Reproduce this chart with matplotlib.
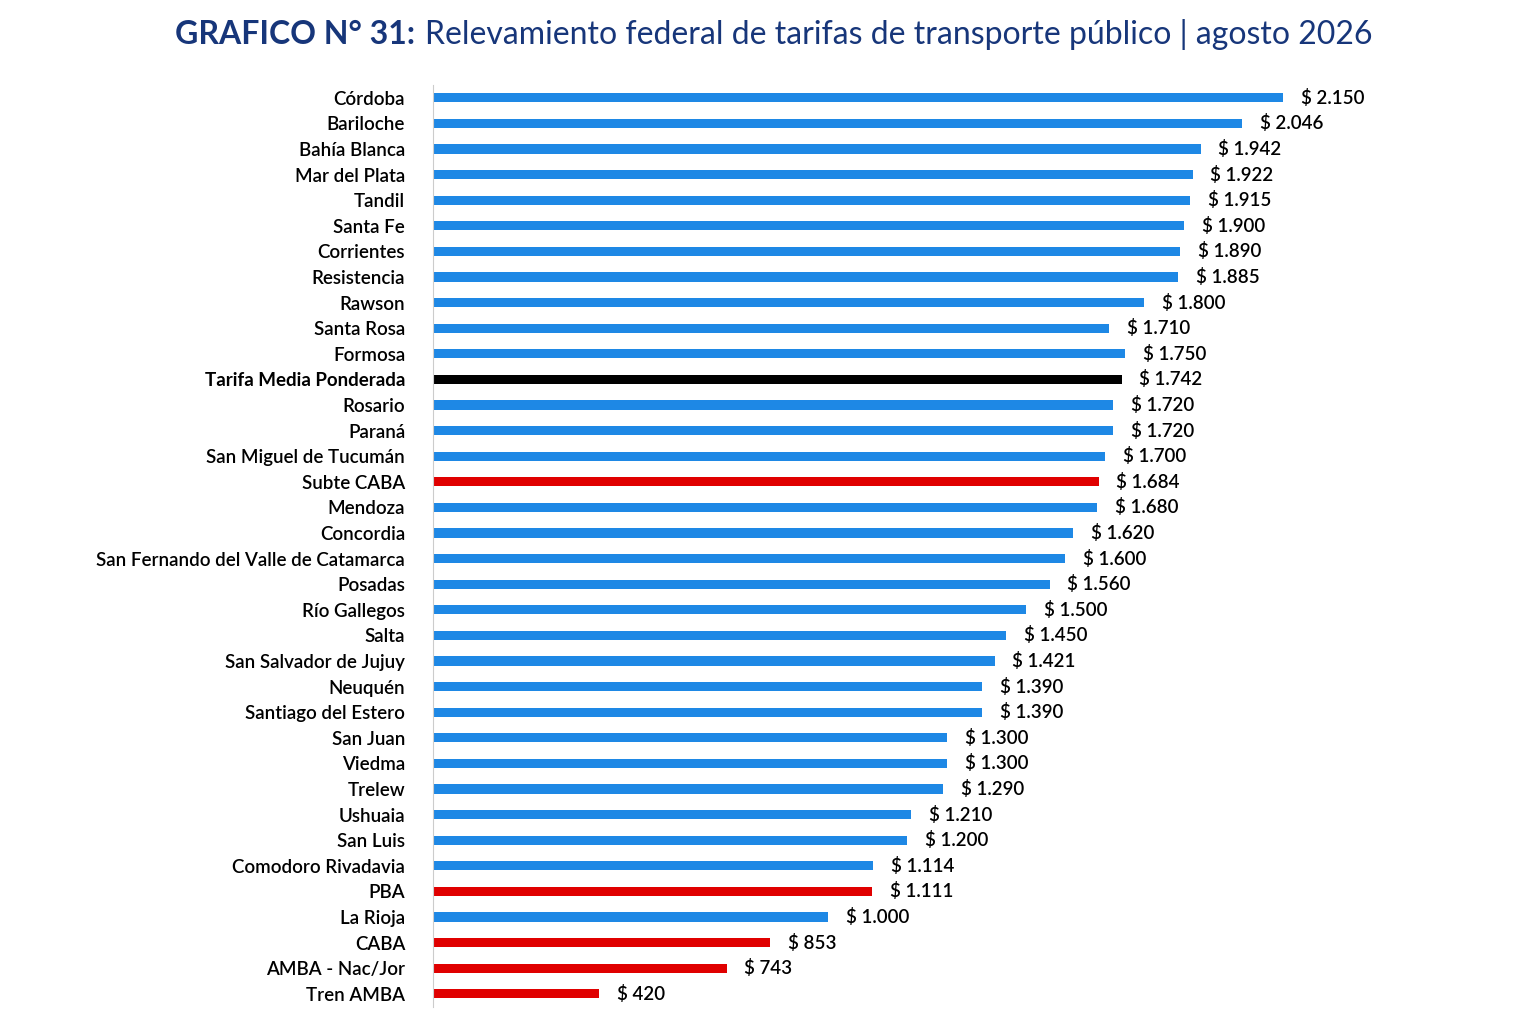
import matplotlib.pyplot as plt

cities = ['Córdoba', 'Bariloche', 'Bahía Blanca', 'Mar del Plata', 'Tandil', 'Santa Fe',
          'Corrientes', 'Resistencia', 'Rawson', 'Santa Rosa', 'Formosa',
          'Tarifa Media Ponderada', 'Rosario', 'Paraná', 'San Miguel de Tucumán',
          'Subte CABA', 'Mendoza', 'Concordia', 'San Fernando del Valle de Catamarca',
          'Posadas', 'Río Gallegos', 'Salta', 'San Salvador de Jujuy', 'Neuquén',
          'Santiago del Estero', 'San Juan', 'Viedma', 'Trelew', 'Ushuaia', 'San Luis',
          'Comodoro Rivadavia', 'PBA', 'La Rioja', 'CABA', 'AMBA - Nac/Jor', 'Tren AMBA']
tarifas = [2150, 2046, 1942, 1922, 1915, 1900, 1890, 1885, 1800, 1710, 1750,
           1742, 1720, 1720, 1700, 1684, 1680, 1620, 1600, 1560, 1500, 1450, 1421,
           1390, 1390, 1300, 1300, 1290, 1210, 1200, 1114, 1111, 1000, 853, 743, 420]
red_items = ['Subte CABA', 'PBA', 'CABA', 'AMBA - Nac/Jor', 'Tren AMBA']

plt.rcParams['font.family'] = ['Lato', 'DejaVu Sans']

colors = []
for c in cities:
    if c == 'Tarifa Media Ponderada':
        colors.append('black')
    elif c in red_items:
        colors.append('#e00000')
    else:
        colors.append('#1e88e5')

fig = plt.figure(figsize=(15.37, 10.23), dpi=100)
ax = fig.add_axes([0.2817, 0.016, 0.7183, 0.901])
y = list(range(len(cities)))
ax.barh(y, tarifas, height=0.36, color=colors)
ax.set_ylim(len(cities) - 0.5, -0.5)
ax.set_xlim(0, 2793)
ax.set_yticks(y)
ax.set_yticklabels(cities, fontsize=13.5, fontweight='semibold')
for lbl in ax.get_yticklabels():
    if lbl.get_text() == 'Tarifa Media Ponderada':
        lbl.set_fontweight('bold')
ax.tick_params(axis='y', length=0, pad=20)
ax.set_xticks([])
for s in ['top', 'right', 'bottom']:
    ax.spines[s].set_visible(False)
ax.spines['left'].set_color('#cccccc')

for yi, v in zip(y, tarifas):
    txt = '$ ' + f'{v:,}'.replace(',', '.')
    ax.text(v + 45, yi, txt, va='center', ha='left', fontsize=13.5, fontweight='semibold')

fig.text(415 / 1537, 1 - 35 / 1023, 'GRAFICO N° 31:', ha='right', va='center',
         fontsize=23, fontweight='bold', color='#17367a')
fig.text(425 / 1537, 1 - 35 / 1023, 'Relevamiento federal de tarifas de transporte público | agosto 2026',
         ha='left', va='center', fontsize=23, color='#17367a')

fig.savefig('out.png', dpi=100)
